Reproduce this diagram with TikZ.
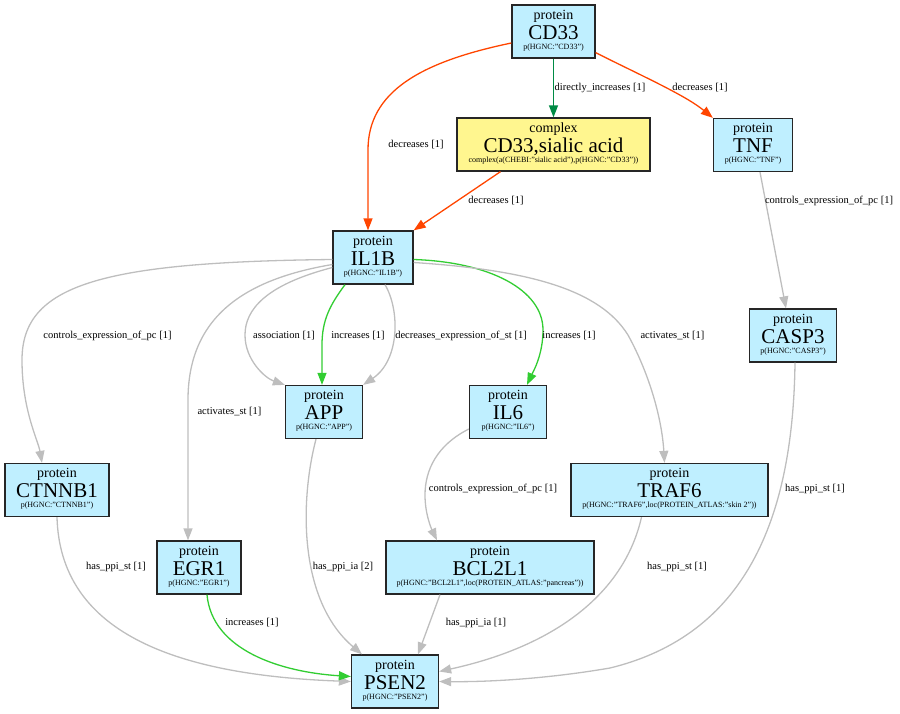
\documentclass[tikz,border=0pt]{standalone}
\usepackage{fontspec}
\setmainfont{Liberation Serif}
\usetikzlibrary{arrows.meta}

\definecolor{protfill}{RGB}{191,239,255}
\definecolor{cplxfill}{RGB}{255,246,143}
\definecolor{edgegrey}{RGB}{190,190,190}
\definecolor{decred}{RGB}{255,69,0}
\definecolor{incgreen}{RGB}{50,205,50}
\definecolor{dirgreen}{RGB}{0,139,69}

% three-line node label: kind, name, namespace term
\newcommand\nodetext[3]{\vbox{\offinterlineskip\halign{\hfil##\hfil\cr
\vrule height 11pt depth 3.5pt width 0pt\fontsize{14}{14}\selectfont #1\cr
\vrule height 16.5pt depth 3.5pt width 0pt\fontsize{21}{21}\selectfont #2\cr
\vrule height 6.5pt depth 6pt width 0pt\fontsize{8}{8}\selectfont #3\cr}}}

\tikzset{
  prot/.style={draw=black!85, line width=1.3pt, fill=protfill, rectangle,
    inner sep=0pt, minimum height=53pt},
  cplx/.style={prot, fill=cplxfill},
  conn/.style={line width=1.3pt, -{Triangle[length=12pt,width=9pt]}},
  cgrey/.style={conn, draw=edgegrey},
  cred/.style={conn, draw=decred},
  cgreen/.style={conn, draw=incgreen},
  cdark/.style={conn, draw=dirgreen},
  elabel/.style={font=\fontsize{10.5}{12}\selectfont, inner sep=1pt},
}

\begin{document}
\begin{tikzpicture}[x=1pt, y=-1pt]
\useasboundingbox (0,0) rectangle (900,713);

% nodes
\node[prot, minimum width=83pt] (cd33) at (553.5,31.5) {\nodetext{protein}{CD33}{p(HGNC:"CD33")}};
\node[cplx, minimum width=193pt] (complex) at (553.5,144.5) {\nodetext{complex}{CD33,sialic acid}{complex(a(CHEBI:"sialic acid"),p(HGNC:"CD33"))}};
\node[prot, minimum width=79pt] (tnf) at (753,145) {\nodetext{protein}{TNF}{p(HGNC:"TNF")}};
\node[prot, minimum width=80pt] (il1b) at (373,257.5) {\nodetext{protein}{IL1B}{p(HGNC:"IL1B")}};
\node[prot, minimum width=87pt] (casp3) at (793,335.5) {\nodetext{protein}{CASP3}{p(HGNC:"CASP3")}};
\node[prot, minimum width=77pt] (app) at (324,412) {\nodetext{protein}{APP}{p(HGNC:"APP")}};
\node[prot, minimum width=77pt] (il6) at (508,412) {\nodetext{protein}{IL6}{p(HGNC:"IL6")}};
\node[prot, minimum width=104pt] (ctnnb1) at (57,490) {\nodetext{protein}{CTNNB1}{p(HGNC:"CTNNB1")}};
\node[prot, minimum width=197pt] (traf6) at (669.5,490) {\nodetext{protein}{TRAF6}{p(HGNC:"TRAF6",loc(PROTEIN\_ATLAS:"skin 2"))}};
\node[prot, minimum width=84pt] (egr1) at (199,567.5) {\nodetext{protein}{EGR1}{p(HGNC:"EGR1")}};
\node[prot, minimum width=208pt] (bcl2l1) at (490,567.5) {\nodetext{protein}{BCL2L1}{p(HGNC:"BCL2L1",loc(PROTEIN\_ATLAS:"pancreas"))}};
\node[prot, minimum width=87pt] (psen2) at (395,681.5) {\nodetext{protein}{PSEN2}{p(HGNC:"PSEN2")}};

% connectors
\draw[cred] ([yshift=-11.5pt]cd33.west) .. controls (420,62) and (368,92) .. (368,150) -- ([xshift=-5pt]il1b.north);
\draw[cdark] (cd33.south) -- (complex.north);
\draw[cred] ([yshift=6pt]cd33.south east) .. controls (640,75) and (685,95) .. (tnf.north west);
\draw[cred] ([xshift=-53pt]complex.south) -- (il1b.north east);
\draw[cgrey] ([xshift=7pt]tnf.south) -- ([xshift=-7pt]casp3.north);

\draw[cgrey] ([yshift=-2pt]il1b.west) .. controls (100,262) and (22,285) .. (22,360) .. controls (22,410) and (38,440) .. ([xshift=-15pt]ctnnb1.north);
\draw[cgrey] ([yshift=-7pt]il1b.west) .. controls (240,280) and (188,320) .. (188,400) -- ([xshift=-11pt]egr1.north);
\draw[cgrey] ([yshift=-10pt]il1b.west) .. controls (265,285) and (245,310) .. (245,335) .. controls (245,360) and (265,378) .. (app.north west);
\draw[cgreen] ([xshift=-28pt]il1b.south) .. controls (330,305) and (322,320) .. (322,345) -- ([xshift=-2pt]app.north);
\draw[cgrey] ([xshift=12pt]il1b.south) .. controls (400,310) and (400,360) .. (app.north east);
\draw[cgreen] ([yshift=-2pt]il1b.east) .. controls (490,262) and (543,290) .. (543,330) .. controls (543,355) and (533,372) .. ([xshift=19pt]il6.north);
\draw[cgrey] ([yshift=-5pt]il1b.east) .. controls (530,270) and (600,290) .. (628,335) .. controls (650,375) and (662,420) .. ([xshift=-5pt]traf6.north);

\draw[cgrey] ([yshift=-17pt]il6.west) .. controls (437,445) and (425,470) .. (425,495) .. controls (425,515) and (432,530) .. ([xshift=-53pt]bcl2l1.north);
\draw[cgrey] ([xshift=2pt]casp3.south) .. controls (793,520) and (745,635) .. (610,668) .. controls (540,680) and (480,682) .. (psen2.east);
\draw[cgrey] ([xshift=-28pt]traf6.south) .. controls (625,590) and (560,645) .. ([yshift=10pt]psen2.east);
\draw[cgrey] (ctnnb1.south) .. controls (60,630) and (170,675) .. (psen2.west);
\draw[cgrey] ([xshift=-8pt]app.south) .. controls (300,500) and (298,600) .. ([xshift=-33pt]psen2.north);
\draw[cgreen] ([xshift=8pt]egr1.south) .. controls (212,650) and (280,672) .. ([yshift=5pt]psen2.west);
\draw[cgrey] ([xshift=-50pt]bcl2l1.south) -- ([xshift=23pt]psen2.north);

% connector labels
\node[elabel] (l1) at (416,145) {decreases [1]};
\node[elabel] (l2) at (600,88) {directly\_increases [1]};
\node[elabel] (l3) at (700,88) {decreases [1]};
\node[elabel] (l4) at (496,201) {decreases [1]};
\node[elabel] (l5) at (829,201) {controls\_expression\_of\_pc [1]};
\node[elabel] (l6) at (107.5,336) {controls\_expression\_of\_pc [1]};
\node[elabel] (l7) at (229.5,412) {activates\_st [1]};
\node[elabel] (l8) at (284,336) {association [1]};
\node[elabel] (l9) at (358,336) {increases [1]};
\node[elabel] (l10) at (461,336) {decreases\_expression\_of\_st [1]};
\node[elabel] (l11) at (569,336) {increases [1]};
\node[elabel] (l12) at (672.5,336) {activates\_st [1]};
\node[elabel] (l13) at (493,489) {controls\_expression\_of\_pc [1]};
\node[elabel] (l14) at (815,489) {has\_ppi\_st [1]};
\node[elabel] (l15) at (116,567) {has\_ppi\_st [1]};
\node[elabel] (l16) at (343,567) {has\_ppi\_ia [2]};
\node[elabel] (l17) at (677,567) {has\_ppi\_st [1]};
\node[elabel] (l18) at (252,623) {increases [1]};
\node[elabel] (l19) at (476,623) {has\_ppi\_ia [1]};
\end{tikzpicture}
\end{document}
